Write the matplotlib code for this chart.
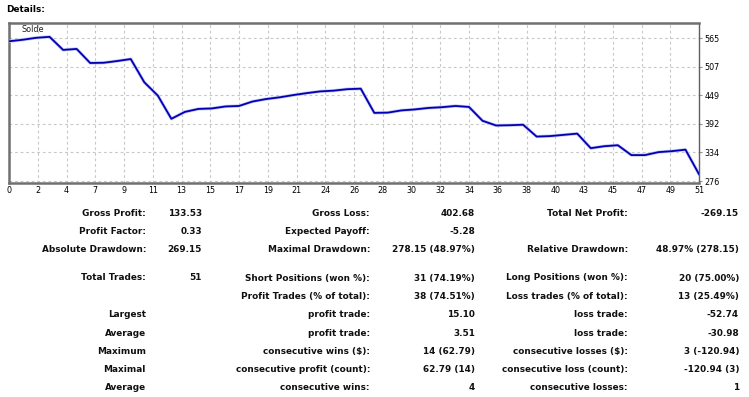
import matplotlib
matplotlib.use("Agg")
import matplotlib.pyplot as plt
import numpy as np

# balance after each trade (0 = initial deposit)
balance = [559.0, 562.0, 566.0, 568.0, 541.5, 543.5, 515.0, 515.5, 519.0, 523.0,
           476.0, 449.0, 402.0, 416.0, 422.0, 423.0, 427.0, 428.0, 437.0, 442.0,
           445.5, 450.0, 454.0, 457.5, 459.0, 462.0, 463.0, 414.0, 414.5, 419.0,
           421.0, 424.0, 425.5, 428.0, 426.0, 398.0, 388.5, 389.0, 390.0, 366.0,
           367.0, 369.5, 372.0, 342.5, 346.5, 348.5, 328.5, 328.5, 334.5, 336.5,
           339.5, 289.85]
trades = list(range(len(balance)))

x_labels = ["0", "2", "4", "7", "9", "11", "13", "15", "17", "19", "21", "24", "26",
            "28", "30", "32", "34", "36", "38", "40", "43", "45", "47", "49", "51"]
y_labels = ["276", "334", "392", "449", "507", "565"]

# report table: label / value pairs, three column groups per row
rows = [
    ["Gross Profit:", "133.53", "Gross Loss:", "402.68", "Total Net Profit:", "-269.15"],
    ["Profit Factor:", "0.33", "Expected Payoff:", "-5.28", "", ""],
    ["Absolute Drawdown:", "269.15", "Maximal Drawdown:", "278.15 (48.97%)", "Relative Drawdown:", "48.97% (278.15)"],
    ["Total Trades:", "51", "Short Positions (won %):", "31 (74.19%)", "Long Positions (won %):", "20 (75.00%)"],
    ["", "", "Profit Trades (% of total):", "38 (74.51%)", "Loss trades (% of total):", "13 (25.49%)"],
    ["Largest", "", "profit trade:", "15.10", "loss trade:", "-52.74"],
    ["Average", "", "profit trade:", "3.51", "loss trade:", "-30.98"],
    ["Maximum", "", "consecutive wins ($):", "14 (62.79)", "consecutive losses ($):", "3 (-120.94)"],
    ["Maximal", "", "consecutive profit (count):", "62.79 (14)", "consecutive loss (count):", "-120.94 (3)"],
    ["Average", "", "consecutive wins:", "4", "consecutive losses:", "1"],
]
row_y = [213, 231.5, 249.5, 278, 296, 314.5, 333, 351.5, 369.5, 388]
col_x = [146, 202, 370, 475, 628, 739]

W, H = 749, 397
fig = plt.figure(figsize=(W / 100, H / 100), dpi=100)
fig.patch.set_facecolor("white")

ax = fig.add_axes([9 / W, 1 - 183 / H, 690 / W, 160 / H])
ax.plot(trades, balance, color="#c4c4f0", lw=2.3, zorder=3, solid_joinstyle="round")
ax.plot(trades, balance, color="#0000b4", lw=1.3, zorder=4, solid_joinstyle="round")

n = len(x_labels) - 1
ax.set_xlim(0, trades[-1])
ax.set_xticks(np.arange(n + 1) * trades[-1] / n)
ax.set_xticklabels(x_labels)
yt = np.linspace(276, 565, len(y_labels))
ax.set_ylim(272, 596)
ax.set_yticks(yt)
ax.set_yticklabels(y_labels)
ax.yaxis.tick_right()
ax.tick_params(axis="x", length=0, pad=2.5, labelsize=5.8)
ax.tick_params(axis="y", length=2.5, width=0.8, color="#909090", pad=1.5, labelsize=5.8)
ax.grid(True, ls=(0, (2.5, 2.5)), color="#c8c8c8", lw=0.8, zorder=1)

for side in ["left", "top", "bottom"]:
    ax.spines[side].set_linewidth(1.8)
    ax.spines[side].set_color("#707070")
ax.spines["right"].set_linewidth(1.0)
ax.spines["right"].set_color("#606060")

ax.text(12 / 690, 1 - 7 / 160, "Solde", transform=ax.transAxes, fontsize=5.8,
        ha="left", va="center", color="#202020")

fig.text(6 / W, 1 - 9 / H, "Details:", fontsize=6.4, fontweight="bold", ha="left", va="center")

for y, row in zip(row_y, rows):
    for x, txt in zip(col_x, row):
        if txt:
            fig.text(x / W, 1 - y / H, txt, fontsize=6.4, fontweight="bold",
                     ha="right", va="center", color="#101010")

fig.savefig("out.png", dpi=100)
